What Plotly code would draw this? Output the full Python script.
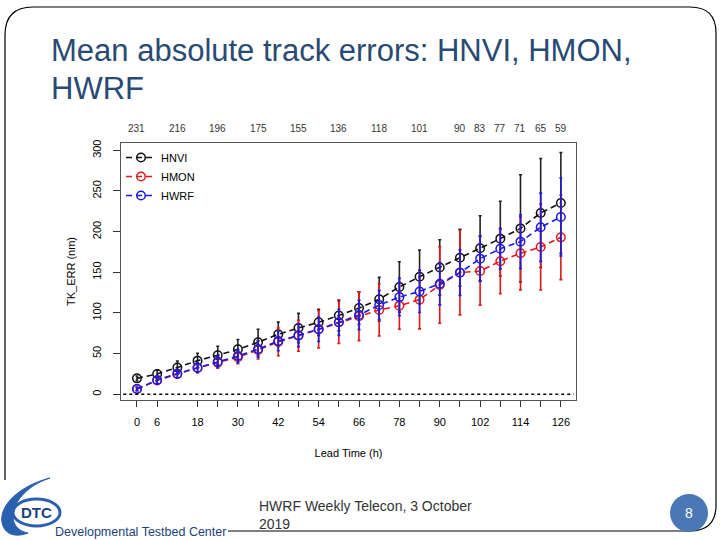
import plotly.graph_objects as go

# ---------------- data ----------------
lead_time = [0, 6, 12, 18, 24, 30, 36, 42, 48, 54, 60, 66, 72, 78, 84, 90, 96, 102, 108, 114, 120, 126]
hnvi = [19.6, 25, 33, 41.4, 48, 55.3, 64, 73.8, 81.5, 88.5, 97, 106, 116.8, 132, 144.5, 156, 168, 179.6, 191.4, 204, 223, 235.3]
hnvi_err = [3, 5, 8, 9, 11, 12, 16, 15, 18, 16, 19, 20, 27, 31, 33, 34, 35, 40, 46, 66, 67, 62]
hmon = [6.5, 17, 25, 32.5, 39, 45.6, 54.5, 64.5, 72, 80, 88.5, 96, 103.7, 109, 116.4, 134.4, 149.7, 151.7, 163.6, 173.4, 181.2, 193]
hmon_err = [2, 4, 5, 6, 7, 8, 11, 17, 19, 23, 26, 30, 32, 29, 36, 47, 52, 42, 40, 45, 53, 52]
hwrf = [6.5, 17.6, 25.4, 32.8, 40, 47, 55.7, 65.5, 72.5, 80, 88.5, 97.5, 109.8, 119.5, 126.5, 136, 149.6, 166.8, 179, 187.7, 205.4, 218]
hwrf_err = [2, 4, 5, 6, 7, 8, 10, 12, 14, 15, 16, 18, 18, 23, 26, 26, 28, 28, 25, 33, 42, 48]

count_leads = [0, 12, 24, 36, 48, 60, 72, 84, 96, 102, 108, 114, 120, 126]
count_labels = ["231", "216", "196", "175", "155", "136", "118", "101", "90", "83", "77", "71", "65", "59"]

x_tickvals = [0, 6, 18, 24, 30, 36, 42, 48, 54, 60, 66, 72, 78, 84, 90, 96, 102, 108, 114, 120, 126]
x_ticktext = ["0", "6", "18", "", "30", "", "42", "", "54", "", "66", "", "78", "", "90", "", "102", "", "114", "", "126"]
y_tickvals = [0, 50, 100, 150, 200, 250, 300]

series = [
    ("HNVI", hnvi, hnvi_err, "#111111", "#222222"),
    ("HMON", hmon, hmon_err, "#e01818", "#e01818"),
    ("HWRF", hwrf, hwrf_err, "#1a1ae0", "#1a1ae0"),
]

# ---------------- layout geometry (pixels) ----------------
W, H = 720, 540
L, R, T, B = 121, 576, 143, 400  # plot box in page pixels


def px(x):
    return (x - L) / (R - L)


def py(y):
    return (B - y) / (B - T)


FONT = "Liberation Sans, Arial, Helvetica, sans-serif"

fig = go.Figure()
for name, vals, err, col, ecol in series:
    fig.add_trace(go.Scatter(
        x=lead_time, y=vals, name=name, mode="lines+markers",
        line=dict(color=col, width=1.6, dash="6px,4px"),
        marker=dict(symbol="circle-open", size=8.5, color=col, line=dict(width=1.5, color=col)),
        error_y=dict(type="data", array=err, visible=True, color=ecol, thickness=1.6, width=1.5),
    ))

shapes = []
# dotted zero line
shapes.append(dict(type="line", xref="paper", yref="y", x0=0.005, x1=0.995, y0=0, y1=0,
                   line=dict(color="black", width=1.5, dash="dot")))


def P(x, y):
    return f"{px(x):.5f},{py(y):.5f}"


# slide border (rounded frame)
frame = (f"M {P(5,480)} L {P(5,35)} Q {P(5,7)} {P(33,7)} L {P(690,7)} Q {P(716,7)} {P(716,33)} "
         f"L {P(716,505)} Q {P(716,531)} {P(690,531)} L {P(228,531)}")
shapes.append(dict(type="path", xref="paper", yref="paper", path=frame,
                   line=dict(color="black", width=1.2)))

# page number circle
shapes.append(dict(type="circle", xref="paper", yref="paper",
                   x0=px(670), x1=px(708), y0=py(494), y1=py(532),
                   fillcolor="#4a78b5", line=dict(color="#4a78b5", width=0)))

# DTC logo swoosh
swoosh = (f"M {P(50,478)} C {P(18,486)} {P(-4,508)} {P(3,526)} C {P(7,536)} {P(18,537)} {P(28,533)} "
          f"C {P(12,530)} {P(8,514)} {P(20,498)} C {P(28,488)} {P(38,482)} {P(50,478)} Z")
shapes.append(dict(type="path", xref="paper", yref="paper", path=swoosh,
                   fillcolor="#2b5fb0", line=dict(color="#2b5fb0", width=1)))
shapes.append(dict(type="circle", xref="paper", yref="paper",
                   x0=px(13), x1=px(60), y0=py(499), y1=py(526),
                   line=dict(color="#2b5fb0", width=3)))

annotations = []
for xl, lab in zip(count_leads, count_labels):
    annotations.append(dict(x=xl, y=py(128), xref="x", yref="paper", text=lab, showarrow=False,
                            font=dict(family=FONT, size=10, color="#333333"), yanchor="middle"))

annotations += [
    dict(x=px(49), y=py(51), xref="paper", yref="paper", xanchor="left", yanchor="middle",
         text="Mean absolute track errors: HNVI, HMON,", showarrow=False,
         font=dict(family=FONT, size=31, color="#284a74")),
    dict(x=px(49), y=py(88), xref="paper", yref="paper", xanchor="left", yanchor="middle",
         text="HWRF", showarrow=False, font=dict(family=FONT, size=31, color="#284a74")),
    dict(x=px(257), y=py(515), xref="paper", yref="paper", xanchor="left", yanchor="middle",
         text="HWRF Weekly Telecon, 3 October<br>2019", showarrow=False, align="left",
         font=dict(family=FONT, size=14, color="#333333")),
    dict(x=px(689), y=py(513), xref="paper", yref="paper", xanchor="center", yanchor="middle",
         text="8", showarrow=False, font=dict(family=FONT, size=14, color="white")),
    dict(x=px(36), y=py(512), xref="paper", yref="paper", xanchor="center", yanchor="middle",
         text="<b>DTC</b>", showarrow=False, font=dict(family=FONT, size=15, color="#1c3f80")),
    dict(x=px(53), y=py(532), xref="paper", yref="paper", xanchor="left", yanchor="middle",
         text="Developmental Testbed Center", showarrow=False,
         font=dict(family=FONT, size=12.5, color="#1c3f80")),
]

fig.update_layout(
    width=W, height=H, autosize=False,
    margin=dict(l=L, r=W - R, t=T, b=H - B, pad=0),
    paper_bgcolor="white", plot_bgcolor="white",
    font=dict(family=FONT, size=11, color="black"),
    showlegend=True,
    legend=dict(x=0.0, y=py(143), xanchor="left", yanchor="top", bgcolor="rgba(0,0,0,0)",
                font=dict(size=11), itemwidth=30, tracegroupgap=0),
    shapes=shapes, annotations=annotations,
)
fig.update_xaxes(range=[-4.75, 130.5], tickvals=x_tickvals, ticktext=x_ticktext,
                 ticks="outside", ticklen=6, tickcolor="#333", showgrid=False, zeroline=False,
                 showline=True, mirror=True, linecolor="#555", linewidth=1,
                 ticklabelstandoff=6, tickfont=dict(size=11),
                 title=dict(text="Lead Time (h)", font=dict(size=11), standoff=22))
fig.update_yaxes(range=[-7, 309], tickvals=y_tickvals, tickangle=-90,
                 ticks="outside", ticklen=7, tickcolor="#333", showgrid=False, zeroline=False,
                 showline=True, mirror=True, linecolor="#555", linewidth=1,
                 ticklabelstandoff=8, tickfont=dict(size=11),
                 title=dict(text="TK_ERR (nm)", font=dict(size=11), standoff=12))

fig.write_html("out.html", config={"displayModeBar": False},
               post_script="document.body.style.margin='0';")
